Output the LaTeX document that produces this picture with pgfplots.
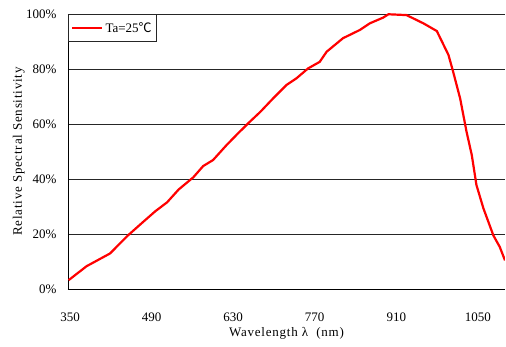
\documentclass[border=0pt]{standalone}
\usepackage{fontspec}
\setmainfont{Liberation Serif}
\newfontfamily\lblfont[LetterSpace=6]{Liberation Serif}
\newfontfamily\cjk{Noto Sans CJK SC}
\usepackage{pgfplots}
\pgfplotsset{compat=1.18}
\definecolor{curve}{RGB}{255,0,0}
\begin{document}
\begin{tikzpicture}[x=1pt,y=1pt]
\useasboundingbox (0,0) rectangle (506,347);
\begin{axis}[
  at={(68pt,58pt)}, anchor=south west,
  scale only axis, width=437pt, height=275pt,
  xmin=350, xmax=1100, ymin=0, ymax=100,
  xtick={350,490,630,770,910,1050}, ytick={0,20,40,60,80,100},
  /pgf/number format/1000 sep={},
  /pgf/number format/assume math mode=true,
  yticklabel={\pgfmathprintnumber{\tick}\%},
  axis x line*=bottom, axis y line*=left,
  axis line style={-, black, line width=0.9pt},
  major tick length=0pt,
  ymajorgrids, grid style={black!85, line width=0.7pt},
  tick label style={font=\fontsize{13}{15}\selectfont},
  xticklabel style={anchor=base, yshift=-33pt, xshift=2pt},
  yticklabel style={xshift=-8pt},
  xlabel={Wavelength λ\ \ (nm)},
  ylabel={Relative Spectral Sensitivity},
  label style={font=\fontsize{13}{15}\lblfont},
  xlabel style={at={(axis description cs:0.5,0)}, anchor=base, yshift=-48pt},
  ylabel style={at={([xshift=-46pt]axis description cs:0,0.5)}, anchor=base},
  legend style={at={(0,1)}, anchor=north west, draw=black!85, line width=0.7pt,
    font=\fontsize{13}{15}\selectfont, inner xsep=3pt, inner ysep=6pt, fill=white},
  legend image code/.code={\draw[#1] (0pt,0pt) -- (30pt,0pt);},
  legend cell align=left,
]
\addplot[curve, line width=2.2pt, line join=round] coordinates {
(351,3.2) (382,8.3) (422,12.9) (453,19.5) (479,24.4) (500,28.3) (520,31.5)
(540,36.2) (565,40.6) (582,44.7) (599,46.9) (622,52.3) (640,56.2) (659,60.2)
(680,64.4) (702,69.3) (725,74.2) (742,76.6) (762,80.2) (782,82.6) (794,86.3)
(822,91.2) (851,94.2) (868,96.6) (891,98.7) (900,99.9) (931,99.6) (960,96.6)
(983,93.8) (1003,85.1) (1011,79.0) (1023,69.3) (1034,57.2) (1043,48.7)
(1051,37.8) (1063,29.3) (1080,19.5) (1091,15.3) (1100,10.4)
};
\addlegendentry{Ta=25{\cjk ℃}}
\end{axis}
\end{tikzpicture}
\end{document}
